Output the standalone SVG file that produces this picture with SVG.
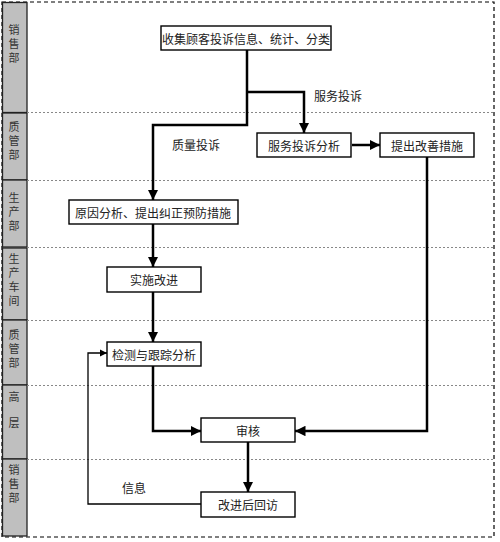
<svg xmlns="http://www.w3.org/2000/svg" width="500" height="542" viewBox="0 0 500 542">
<style>
.box{fill:#fff;stroke:#000;stroke-width:1.4}
.t{font-family:"Noto Sans CJK SC","Noto Sans CJK TC",sans-serif;font-size:12px;fill:#222;text-anchor:middle;dominant-baseline:central}
.lane{fill:#bfbfbf;stroke:#222;stroke-width:1.3}
.sep{stroke:#888;stroke-width:1;stroke-dasharray:2,2;fill:none}
.c{fill:none;stroke:#000;stroke-width:2.5}
.thin{fill:none;stroke:#000;stroke-width:1.3}
.lt{font-family:"Noto Sans CJK SC","Noto Sans CJK TC",sans-serif;font-size:11px;fill:#333;text-anchor:middle;dominant-baseline:central;writing-mode:vertical-rl;text-orientation:upright;letter-spacing:3px}
</style>
<defs>
<marker id="ah" viewBox="0 0 10 10" refX="10" refY="5" markerWidth="4.2" markerHeight="4.2" markerUnits="strokeWidth" orient="auto">
<path d="M0,0 L10,5 L0,10 Z" fill="#000"/>
</marker>
<marker id="ahs" viewBox="0 0 10 10" refX="10" refY="5" markerWidth="5.5" markerHeight="5.5" markerUnits="strokeWidth" orient="auto">
<path d="M0,0 L10,5 L0,10 Z" fill="#000"/>
</marker>
</defs>
<rect x="0" y="0" width="500" height="542" fill="#fff"/>
<rect x="2" y="2" width="492" height="535" fill="none" stroke="#000" stroke-width="1.2" stroke-dasharray="4,3"/>
<g id="lanes">
<rect class="lane" x="2.5" y="2.5" width="24.5" height="110"/>
<rect class="lane" x="2.5" y="113" width="24.5" height="67"/>
<rect class="lane" x="2.5" y="180" width="24.5" height="67"/>
<rect class="lane" x="2.5" y="248" width="24.5" height="72"/>
<rect class="lane" x="2.5" y="320" width="24.5" height="65"/>
<rect class="lane" x="2.5" y="385" width="24.5" height="74"/>
<rect class="lane" x="2.5" y="459" width="24.5" height="77"/>
<text class="lt" x="14" y="45.5">销售部</text>
<text class="lt" x="14" y="142.5">质管部</text>
<text class="lt" x="14" y="213.5">生产部</text>
<text class="lt" x="14" y="281.5">生产车间</text>
<text class="lt" x="14" y="350.5">质管部</text>
<text class="lt" x="14" y="417.5" style="letter-spacing:15px">高层</text>
<text class="lt" x="14" y="485.5">销售部</text>
</g>
<g id="separators">
<line class="sep" x1="27" y1="112.5" x2="494" y2="112.5"/>
<line class="sep" x1="27" y1="180.5" x2="494" y2="180.5"/>
<line class="sep" x1="27" y1="247.5" x2="494" y2="247.5"/>
<line class="sep" x1="27" y1="320.5" x2="494" y2="320.5"/>
<line class="sep" x1="27" y1="385.5" x2="494" y2="385.5"/>
<line class="sep" x1="27" y1="459.5" x2="494" y2="459.5"/>
</g>
<g id="connectors">
<path class="c" d="M247,50 V125 H153 V200" marker-end="url(#ah)"/>
<path class="c" d="M247,92 H304 V133" marker-end="url(#ah)"/>
<path class="c" d="M352,145 H380" marker-end="url(#ah)"/>
<path class="c" d="M427,157 V431 H295" marker-end="url(#ah)"/>
<path class="c" d="M153,224 V267" marker-end="url(#ah)"/>
<path class="c" d="M153,292 V342" marker-end="url(#ah)"/>
<path class="c" d="M153,366 V431 H201" marker-end="url(#ah)"/>
<path class="c" d="M248,442 V492" marker-end="url(#ah)"/>
<path class="thin" d="M201,504 H88 V353 H107" marker-end="url(#ahs)"/>
<text class="t" x="338" y="95">服务投诉</text>
<text class="t" x="196" y="144">质量投诉</text>
<text class="t" x="134" y="487">信息</text>
</g>
<g id="n1"><rect class="box" x="161" y="26" width="170" height="24"/><text class="t" x="246" y="38">收集顾客投诉信息、统计、分类</text></g>
<g id="n2"><rect class="box" x="257" y="133" width="94" height="24"/><text class="t" x="304" y="145">服务投诉分析</text></g>
<g id="n3"><rect class="box" x="380" y="133" width="94" height="24"/><text class="t" x="427" y="145">提出改善措施</text></g>
<g id="n4"><rect class="box" x="69" y="200" width="169" height="24"/><text class="t" x="153" y="212">原因分析、提出纠正预防措施</text></g>
<g id="n5"><rect class="box" x="107" y="267" width="94" height="25"/><text class="t" x="154" y="279">实施改进</text></g>
<g id="n6"><rect class="box" x="107" y="342" width="94" height="24"/><text class="t" x="154" y="354">检测与跟踪分析</text></g>
<g id="n7"><rect class="box" x="201" y="418" width="94" height="24"/><text class="t" x="248" y="430">审核</text></g>
<g id="n8"><rect class="box" x="201" y="492" width="94" height="25"/><text class="t" x="248" y="504">改进后回访</text></g>
</svg>
